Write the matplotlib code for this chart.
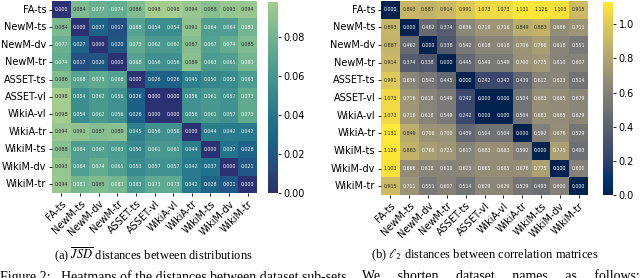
import numpy as np
import matplotlib
matplotlib.use("Agg")
import matplotlib.pyplot as plt
import seaborn as sns

labels = ["FA-ts", "NewM-ts", "NewM-dv", "NewM-tr", "ASSET-ts", "ASSET-vl",
          "WikiA-vl", "WikiA-tr", "WikiM-ts", "WikiM-dv", "WikiM-tr"]

jsd = [
    [0.000, 0.084, 0.077, 0.074, 0.086, 0.098, 0.098, 0.094, 0.088, 0.093, 0.094],
    [0.084, 0.000, 0.027, 0.017, 0.068, 0.054, 0.054, 0.091, 0.064, 0.064, 0.081],
    [0.077, 0.027, 0.000, 0.020, 0.073, 0.062, 0.062, 0.087, 0.067, 0.074, 0.085],
    [0.074, 0.017, 0.020, 0.000, 0.068, 0.056, 0.056, 0.089, 0.063, 0.065, 0.081],
    [0.086, 0.068, 0.073, 0.068, 0.000, 0.026, 0.026, 0.045, 0.050, 0.053, 0.063],
    [0.098, 0.054, 0.062, 0.056, 0.026, 0.000, 0.000, 0.056, 0.061, 0.057, 0.073],
    [0.098, 0.054, 0.062, 0.056, 0.026, 0.000, 0.000, 0.056, 0.061, 0.057, 0.073],
    [0.094, 0.091, 0.087, 0.089, 0.045, 0.056, 0.056, 0.000, 0.044, 0.042, 0.042],
    [0.088, 0.064, 0.067, 0.063, 0.050, 0.061, 0.061, 0.044, 0.000, 0.037, 0.028],
    [0.093, 0.064, 0.074, 0.065, 0.053, 0.057, 0.057, 0.042, 0.037, 0.000, 0.021],
    [0.094, 0.081, 0.085, 0.081, 0.063, 0.073, 0.073, 0.042, 0.028, 0.021, 0.000],
]

l2 = [
    [0.000, 0.893, 0.887, 0.914, 0.991, 1.073, 1.073, 1.131, 1.126, 1.103, 0.915],
    [0.893, 0.000, 0.462, 0.374, 0.636, 0.716, 0.716, 0.849, 0.883, 0.666, 0.711],
    [0.887, 0.462, 0.000, 0.338, 0.542, 0.618, 0.618, 0.706, 0.766, 0.618, 0.551],
    [0.914, 0.374, 0.338, 0.000, 0.445, 0.549, 0.549, 0.700, 0.725, 0.610, 0.607],
    [0.991, 0.636, 0.542, 0.445, 0.000, 0.242, 0.242, 0.439, 0.612, 0.623, 0.514],
    [1.073, 0.716, 0.618, 0.549, 0.242, 0.000, 0.000, 0.504, 0.683, 0.665, 0.629],
    [1.073, 0.716, 0.618, 0.549, 0.242, 0.000, 0.000, 0.504, 0.683, 0.665, 0.629],
    [1.131, 0.849, 0.706, 0.700, 0.439, 0.504, 0.504, 0.000, 0.592, 0.676, 0.529],
    [1.126, 0.883, 0.766, 0.725, 0.612, 0.683, 0.683, 0.592, 0.000, 0.775, 0.493],
    [1.103, 0.666, 0.618, 0.610, 0.623, 0.665, 0.665, 0.676, 0.775, 0.000, 0.600],
    [0.915, 0.711, 0.551, 0.607, 0.514, 0.629, 0.629, 0.529, 0.493, 0.600, 0.000],
]

plt.rcParams['font.family'] = ['DejaVu Sans']
plt.rcParams['mathtext.fontset'] = 'stix'

W, H = 640, 278
fig = plt.figure(figsize=(W / 100, H / 100), dpi=100)

def box(x0, y0, x1, y1):
    return [x0 / W, 1 - y1 / H, (x1 - x0) / W, (y1 - y0) / H]

ax1 = fig.add_axes(box(52, 1, 257, 193))
cax1 = fig.add_axes(box(268, 2, 278, 193))
ax2 = fig.add_axes(box(381, 1, 588, 195))
cax2 = fig.add_axes(box(603, 2, 613, 195))

annot_kws = {"size": 3.4}
sns.heatmap(np.array(jsd), ax=ax1, cbar_ax=cax1, cmap="crest_r", annot=True,
            fmt=".3f", annot_kws=annot_kws, xticklabels=labels, yticklabels=labels)
sns.heatmap(np.array(l2), ax=ax2, cbar_ax=cax2, cmap="cividis", annot=True,
            fmt=".3f", annot_kws=annot_kws, xticklabels=labels, yticklabels=labels)

for ax in (ax1, ax2):
    ax.tick_params(axis='both', labelsize=7, length=2.5, width=0.6, pad=1.5)
    plt.setp(ax.get_xticklabels(), rotation=45, ha='right', rotation_mode='anchor')
    plt.setp(ax.get_yticklabels(), rotation=0)

cax1.set_yticks([0.0, 0.02, 0.04, 0.06, 0.08])
cax1.set_yticklabels(["0.00", "0.02", "0.04", "0.06", "0.08"])
cax2.set_yticks([0.0, 0.2, 0.4, 0.6, 0.8, 1.0])
cax2.set_yticklabels(["0.0", "0.2", "0.4", "0.6", "0.8", "1.0"])
for cax in (cax1, cax2):
    cax.tick_params(labelsize=7, length=2.5, width=0.6, pad=1.5)

fig.text(153 / W, 1 - 255 / H, r"(a) $\overline{JSD}$ distances between distributions",
         ha='center', va='center', fontsize=9, family='Liberation Serif')
fig.text(485 / W, 1 - 255 / H, r"(b) $\ell_2$ distances between correlation matrices",
         ha='center', va='center', fontsize=9, family='Liberation Serif')
fig.text(0 / W, 1 - 277 / H,
         "Figure 2:   Heatmaps of the distances between dataset sub-sets.",
         ha='left', va='center', fontsize=10, family='Liberation Serif')
fig.text(640 / W, 1 - 277 / H,
         "We     shorten     dataset     names     as     follows:",
         ha='right', va='center', fontsize=10, family='Liberation Serif')

fig.savefig("out.png", dpi=100)
